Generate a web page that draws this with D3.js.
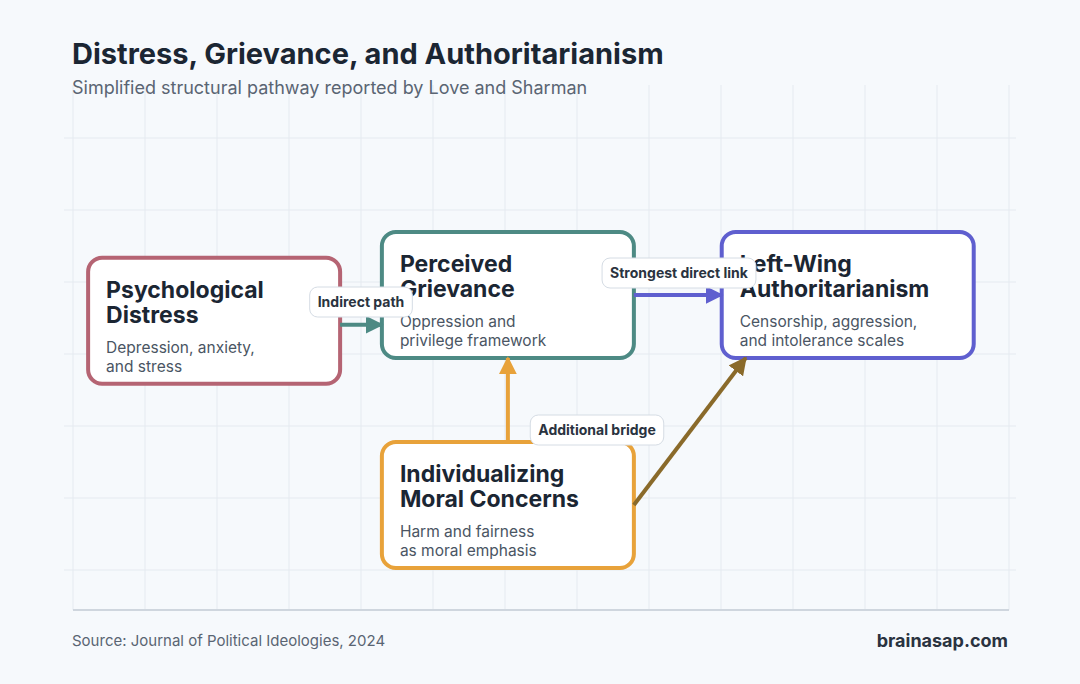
<!DOCTYPE html>
<html><head><meta charset="utf-8">
<script src="https://cdn.jsdelivr.net/npm/d3@7"></script>
<style>body{margin:0;background:#f6f9fc;font-family:Inter,"Liberation Sans",Arial,sans-serif}</style>
</head><body><svg width="1080" height="684"></svg>
<script>
// node data (chart units)
const nodeNames = ["Psychological\nDistress", "Perceived\nGrievance", "Left-Wing\nAuthoritarianism", "Individualizing\nMoral Concerns"];
const nodeDescs = ["Depression, anxiety,\nand stress", "Oppression and\nprivilege framework", "Censorship, aggression,\nand intolerance scales", "Harm and fairness\nas moral emphasis"];
const nodeX = [1.96, 6.04, 10.76, 6.04];
const nodeY = [5.51, 6.0, 6.0, 2.0];
const nodeColors = ["#b56473", "#4d8a84", "#5f5fcf", "#e8a23a"];

// edges: source, target, label
const edgeFrom = [0, 1, 3, 3];
const edgeTo = [1, 2, 1, 2];
const edgeLabels = ["Indirect path", "Strongest direct link", "Additional bridge", null];
const edgeColors = ["#4d8a84", "#5f5fcf", "#e8a23a", "#8a6a2a"];

const svg = d3.select("svg");
const width = +svg.attr("width");
const x = d3.scaleLinear().domain([0, 13]).range([73, 1009]);
const y = d3.scaleLinear().domain([0, 10]).range([610, 85]);
const boxW = 252, boxH = 126;

svg.append("rect").attr("width", width).attr("height", 684).attr("fill", "#f6f9fc");

// grid
const grid = svg.append("g").attr("stroke", "#e5eaf0").attr("stroke-width", 1);
grid.selectAll(".v").data(d3.range(0, 14)).join("line")
  .attr("x1", d => x(d)).attr("x2", d => x(d)).attr("y1", y(10)).attr("y2", y(0));
grid.selectAll(".h").data(d3.range(0, 7).map(i => 0.762 + i * 1.3714)).join("line")
  .attr("x1", 64).attr("x2", 1016).attr("y1", d => y(d)).attr("y2", d => y(d));
svg.append("line").attr("x1", x(0)).attr("x2", x(13)).attr("y1", y(0)).attr("y2", y(0))
  .attr("stroke", "#cfd6de").attr("stroke-width", 2);

// titles
svg.append("text").attr("x", 72).attr("y", 64).text("Distress, Grievance, and Authoritarianism")
  .attr("font-size", 29).attr("font-weight", "bold").attr("fill", "#1b2633");
svg.append("text").attr("x", 72).attr("y", 94).text("Simplified structural pathway reported by Love and Sharman")
  .attr("font-size", 18).attr("fill", "#5a6573");

// nodes
const nodes = nodeNames.map((n, i) => ({ name: n, desc: nodeDescs[i], cx: x(nodeX[i]), cy: y(nodeY[i]), color: nodeColors[i] }));
const ng = svg.selectAll(".node").data(nodes).join("g")
  .attr("transform", d => `translate(${d.cx - boxW / 2},${d.cy - boxH / 2})`);
ng.append("rect").attr("width", boxW).attr("height", boxH).attr("rx", 14)
  .attr("fill", "#fff").attr("stroke", d => d.color).attr("stroke-width", 4);
ng.each(function (d) {
  const g = d3.select(this);
  d.name.split("\n").forEach((t, k) => g.append("text").attr("x", 18).attr("y", 40 + k * 25).text(t)
    .attr("font-size", 23).attr("font-weight", "bold").attr("fill", "#1b2633"));
  d.desc.split("\n").forEach((t, k) => g.append("text").attr("x", 18).attr("y", 95 + k * 19).text(t)
    .attr("font-size", 15.5).attr("fill", "#4a5563"));
});

// edges
const defs = svg.append("defs");
edgeColors.forEach((c, i) => defs.append("marker").attr("id", "m" + i).attr("viewBox", "0 0 10 10")
  .attr("refX", 9).attr("refY", 5).attr("markerWidth", 4.5).attr("markerHeight", 4.5).attr("orient", "auto")
  .attr("markerUnits", "strokeWidth")
  .append("path").attr("d", "M0,0L10,5L0,10z").attr("fill", c));

function ends(i) {
  const s = nodes[edgeFrom[i]], t = nodes[edgeTo[i]];
  if (i === 0) return [s.cx + boxW / 2, s.cy + 4, t.cx - boxW / 2, s.cy + 4];
  if (i === 1) return [s.cx + boxW / 2, s.cy, t.cx - boxW / 2, t.cy];
  if (i === 2) return [s.cx, s.cy - boxH / 2, t.cx, t.cy + boxH / 2];
  return [s.cx + boxW / 2, s.cy, t.cx - boxW / 2 + 24, t.cy + boxH / 2];
}
edgeFrom.forEach((_, i) => {
  const [x1, y1, x2, y2] = ends(i);
  svg.append("line").attr("x1", x1).attr("y1", y1).attr("x2", x2).attr("y2", y2)
    .attr("stroke", edgeColors[i]).attr("stroke-width", 4).attr("marker-end", `url(#m${i})`);
});

// edge labels
const labelPos = [[361, 302], [679, 273], [597, 430]];
edgeLabels.forEach((l, i) => {
  if (!l) return;
  const g = svg.append("g").attr("transform", `translate(${labelPos[i][0]},${labelPos[i][1]})`);
  const t = g.append("text").text(l).attr("text-anchor", "middle").attr("dy", "0.35em")
    .attr("font-size", 14).attr("font-weight", "bold").attr("fill", "#2a3340");
  const w = t.node().getComputedTextLength() + 16;
  g.insert("rect", "text").attr("x", -w / 2).attr("y", -15).attr("width", w).attr("height", 30)
    .attr("rx", 8).attr("fill", "#fff").attr("stroke", "#d5dce4");
});

// footer
svg.append("text").attr("x", 72).attr("y", 646).text("Source: Journal of Political Ideologies, 2024")
  .attr("font-size", 15).attr("fill", "#5a6573");
svg.append("text").attr("x", 1008).attr("y", 647).attr("text-anchor", "end").text("brainasap.com")
  .attr("font-size", 18).attr("font-weight", "bold").attr("fill", "#2a3340");
</script></body></html>
